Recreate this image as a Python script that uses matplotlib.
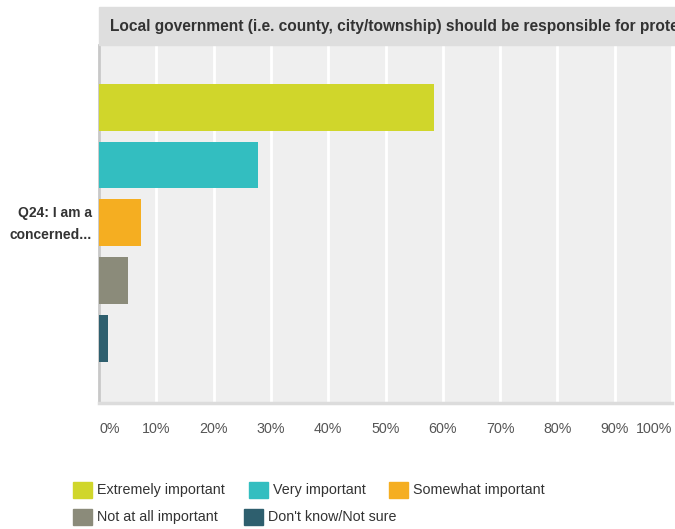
import matplotlib
matplotlib.use('Agg')
import matplotlib.pyplot as plt
from matplotlib.patches import Rectangle

plt.rcParams['font.family'] = ['Liberation Sans', 'DejaVu Sans']

# data
categories = ['Extremely important', 'Very important', 'Somewhat important',
              'Not at all important', "Don't know/Not sure"]
values = [58.4, 27.8, 7.3, 5.0, 1.5]
colors = ['#d0d62b', '#33bec0', '#f5ae21', '#8b8b7a', '#2e5f6e']
question = 'Q24: I am a\nconcerned...'
title = 'Local government (i.e. county, city/township) should be responsible for prote'
ticks = list(range(0, 101, 10))
tick_labels = [f'{t}%' for t in ticks]

W, H = 675, 529
fig = plt.figure(figsize=(W / 100, H / 100), dpi=100)

def fx(px):
    return px / W

def fy(py):
    return 1 - py / H

# plot area
ax = fig.add_axes([fx(99), fy(403), fx(672) - fx(99), fy(45) - fy(403)])
ax.set_facecolor('#efefef')
ypos = list(range(len(values)))
ax.barh(ypos, values, height=0.81, color=colors, zorder=3)
ax.set_xlim(0, 100)
ax.set_ylim(5.12, -1.08)
ax.set_yticks([])
ax.set_xticks(ticks)
ax.set_xticklabels(tick_labels, fontsize=10.3, color='#555555')
labs = ax.get_xticklabels()
labs[0].set_ha('left')
labs[-1].set_ha('right')
ax.tick_params(axis='x', length=0, pad=14)
ax.grid(axis='x', color='white', linewidth=2, zorder=1)
for s in ['top', 'right']:
    ax.spines[s].set_visible(False)
ax.spines['left'].set_color('#c8c8c8')
ax.spines['left'].set_linewidth(2)
ax.spines['bottom'].set_color('#dcdcdc')
ax.spines['bottom'].set_linewidth(2.5)

# title bar
fig.patches.append(Rectangle((fx(99), fy(45)), 1 - fx(99), fy(7) - fy(45),
                             transform=fig.transFigure, color='#dedede', zorder=0))
fig.text(fx(110), fy(26), title, fontsize=11.2, fontweight='bold', color='#333333',
         va='center', ha='left')

# question label
fig.text(fx(92), fy(224), question, fontsize=10, fontweight='bold', color='#333333',
         ha='right', va='center', linespacing=1.8)

# legend
legend_pos = [(73, 490), (249, 490), (389, 490), (73, 517), (244, 517)]
for (px, py), c, lab in zip(legend_pos, colors, categories):
    fig.patches.append(Rectangle((fx(px), fy(py + 8)), fx(19), 16 / H,
                                 transform=fig.transFigure, color=c))
    fig.text(fx(px + 24), fy(py), lab, fontsize=10.3, color='#333333',
             ha='left', va='center')

plt.savefig('out.png', dpi=100)
